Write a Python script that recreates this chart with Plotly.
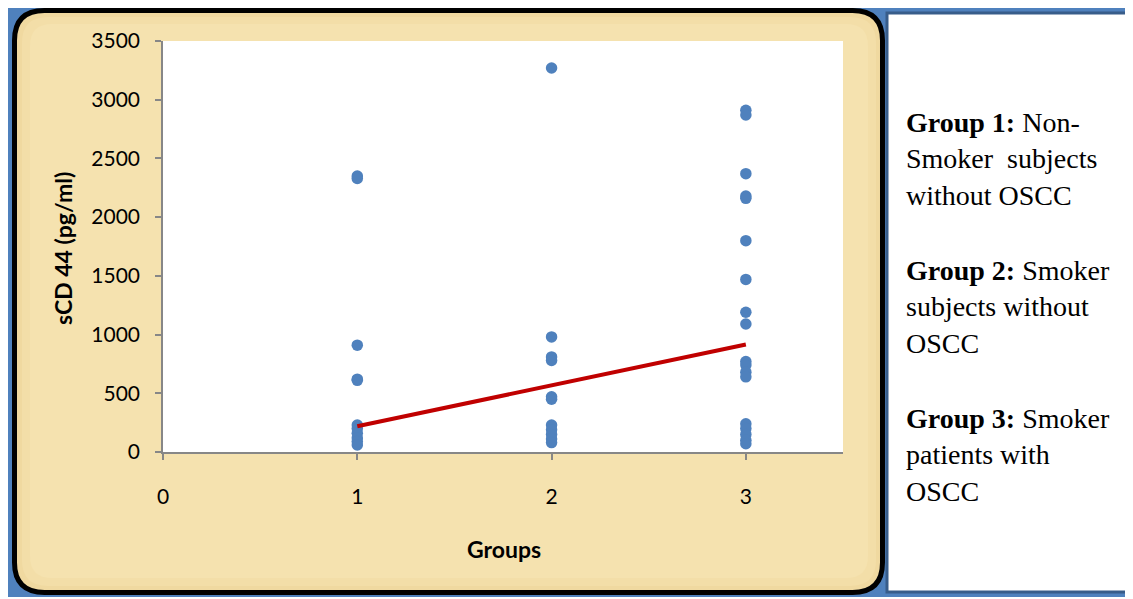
import plotly.graph_objects as go

# ---- data ----
group_x = [1, 2, 3]
group1 = [2350, 2330, 910, 620, 610, 230, 200, 160, 120, 90, 60]
group2 = [3270, 980, 810, 780, 470, 450, 230, 190, 150, 110, 80]
group3 = [2910, 2870, 2370, 2180, 2160, 1800, 1470, 1190, 1090, 770, 740,
          680, 640, 240, 200, 150, 100, 70]
trend = [220, 570, 915]
x_ticks = [0, 1, 2, 3]
y_ticks = [0, 500, 1000, 1500, 2000, 2500, 3000, 3500]

OFF = 8                      # page body margin of the viewer
W, H = 1133 - OFF, 599 - OFF
L, R, T, B = 163 - OFF, 843 - OFF, 41 - OFF, 452 - OFF   # plot-area pixel box


def px(x):
    return (x - OFF - L) / (R - L)


def py(y):
    return (B - (y - OFF)) / (B - T)


def rrect_path(x0, y0, x1, y1, r):
    pts = [
        ("M", [(x0 + r, y0)]),
        ("L", [(x1 - r, y0)]),
        ("Q", [(x1, y0), (x1, y0 + r)]),
        ("L", [(x1, y1 - r)]),
        ("Q", [(x1, y1), (x1 - r, y1)]),
        ("L", [(x0 + r, y1)]),
        ("Q", [(x0, y1), (x0, y1 - r)]),
        ("L", [(x0, y0 + r)]),
        ("Q", [(x0, y0), (x0 + r, y0)]),
    ]
    s = ""
    for cmd, ps in pts:
        s += cmd + " " + " ".join(f"{px(a):.5f},{py(b):.5f}" for a, b in ps) + " "
    return s + "Z"


xs, ys = [], []
for gx, vals in zip(group_x, [group1, group2, group3]):
    xs += [gx] * len(vals)
    ys += vals

fig = go.Figure()
fig.add_trace(go.Scatter(x=xs, y=ys, mode="markers",
                         marker=dict(color="#4F81BD", size=11.5), showlegend=False))
fig.add_trace(go.Scatter(x=group_x, y=trend, mode="lines",
                         line=dict(color="#C00000", width=4), showlegend=False))

shapes = []
# outer blue frame
shapes.append(dict(type="rect", xref="paper", yref="paper", layer="below",
                   x0=px(8), x1=px(1145), y0=py(6), y1=py(597),
                   fillcolor="#4F81BD", line=dict(width=0)))
# beige rounded panel with black border
shapes.append(dict(type="path", xref="paper", yref="paper", layer="below",
                   path=rrect_path(14.5, 10.5, 882.5, 592.5, 30),
                   fillcolor="#F0D9A0", line=dict(color="#000000", width=5)))
# inner lighter area to hint at texture
shapes.append(dict(type="path", xref="paper", yref="paper", layer="below",
                   path=rrect_path(22, 17, 876, 586, 26),
                   fillcolor="#F3DEA8", line=dict(width=0)))
shapes.append(dict(type="path", xref="paper", yref="paper", layer="below",
                   path=rrect_path(30, 24, 868, 578, 22),
                   fillcolor="#F5E2AF", line=dict(width=0)))
# white plot area
shapes.append(dict(type="rect", xref="paper", yref="paper", layer="below",
                   x0=0, x1=1, y0=0, y1=1,
                   fillcolor="#FFFFFF", line=dict(width=0)))
# right text panel
shapes.append(dict(type="rect", xref="paper", yref="paper", layer="below",
                   x0=px(887), x1=px(1150), y0=py(13), y1=py(592),
                   fillcolor="#FFFFFF", line=dict(color="#385D8A", width=3)))
fig.update_layout(shapes=shapes)

serif = "Liberation Serif, Times New Roman, serif"
notes = [
    ("<b>Group 1:</b> Non-<br>Smoker\u00a0 subjects<br>without OSCC", 105),
    ("<b>Group 2:</b> Smoker<br>subjects without<br>OSCC", 253),
    ("<b>Group 3:</b> Smoker<br>patients with<br>OSCC", 401),
]
for txt, ytop in notes:
    fig.add_annotation(text=txt, xref="paper", yref="paper",
                       x=px(904), y=py(ytop), xanchor="left", yanchor="top",
                       align="left", showarrow=False,
                       font=dict(family=serif, size=28, color="#000000"))

sans = "Lato, Open Sans, sans-serif"
fig.add_annotation(text="<b>sCD 44 (pg/ml)</b>", xref="paper", yref="paper",
                   x=px(63), y=py(249), xanchor="center", yanchor="middle",
                   textangle=-90, showarrow=False,
                   font=dict(family=sans, size=23, color="#000000"))
fig.add_annotation(text="<b>Groups</b>", xref="paper", yref="paper",
                   x=px(504), y=py(549), xanchor="center", yanchor="middle",
                   showarrow=False,
                   font=dict(family=sans, size=23, color="#000000"))

fig.update_xaxes(range=[0, 3.5], tickvals=x_ticks, ticktext=[str(v) for v in x_ticks],
                 showgrid=False, zeroline=False, showline=True,
                 linecolor="#878787", linewidth=1.5, ticks="outside", ticklen=6,
                 tickcolor="#878787", tickwidth=1.5, ticklabelstandoff=19,
                 tickfont=dict(family=sans, size=21, color="#000000"))
fig.update_yaxes(range=[0, 3500], tickvals=y_ticks, ticktext=[str(v) for v in y_ticks],
                 showgrid=False, zeroline=False, showline=True,
                 linecolor="#878787", linewidth=1.5, ticks="outside", ticklen=6,
                 tickcolor="#878787", tickwidth=1.5, ticklabelstandoff=11,
                 tickfont=dict(family=sans, size=21, color="#000000"))

fig.update_layout(width=W, height=H, autosize=False,
                  margin=dict(l=L, r=W - R, t=T, b=H - B, pad=0),
                  paper_bgcolor="#FFFFFF", plot_bgcolor="rgba(0,0,0,0)",
                  showlegend=False)

fig.write_html("out.html")
